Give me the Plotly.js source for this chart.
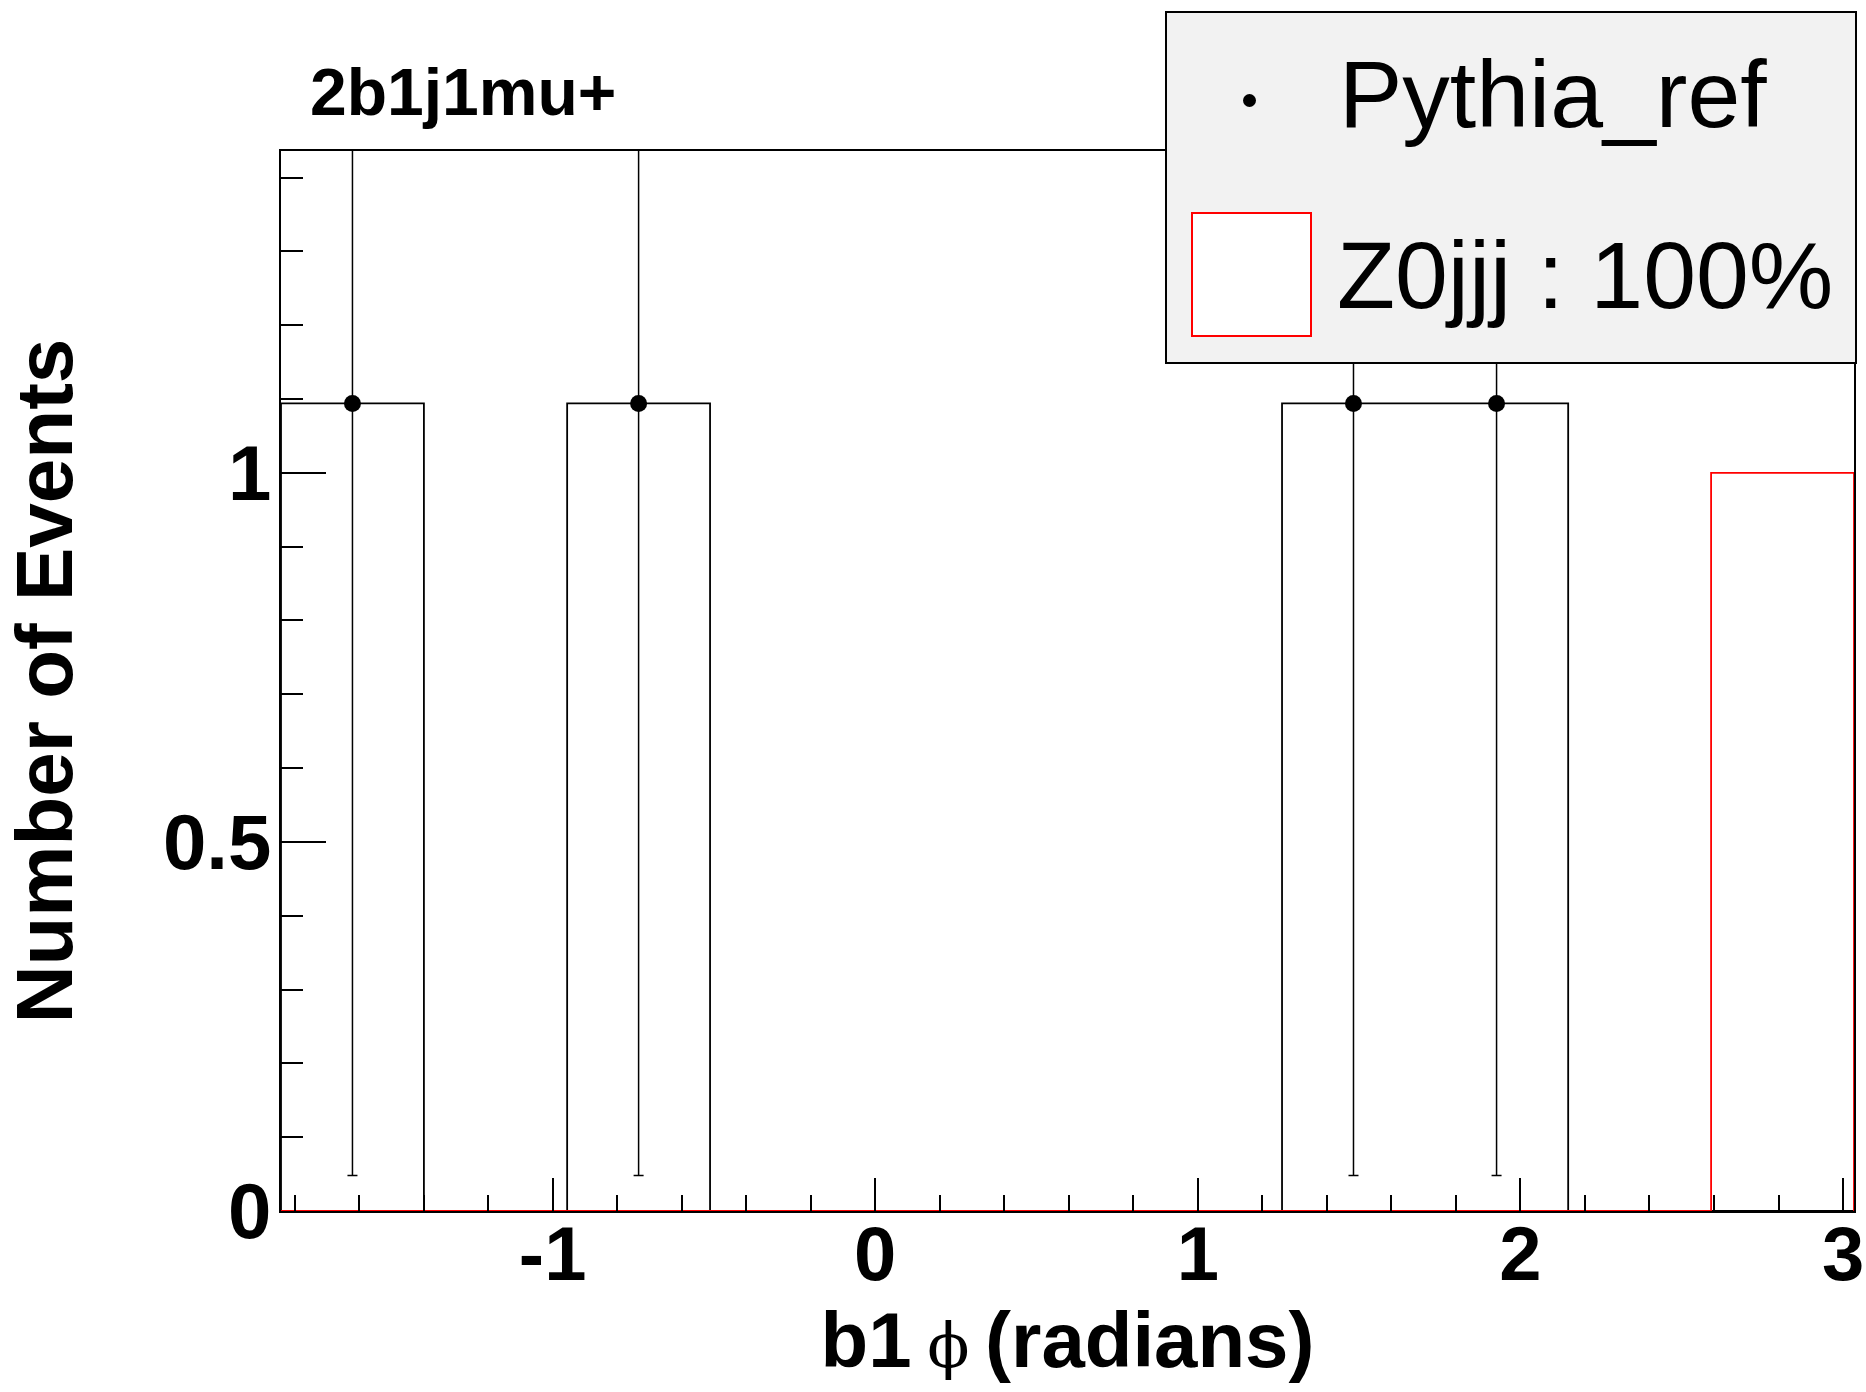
<!DOCTYPE html>
<html>
<head>
<meta charset="utf-8">
<script src="https://cdn.plot.ly/plotly-3.0.1.min.js"></script>
<style>html,body{margin:0;padding:0;background:#fff;}#chart{width:1866px;height:1392px;}</style>
</head>
<body>
<div id="chart"></div>
<script>
// ---- data ----
const chartTitle = "2b1j1mu+";
const xAxisTitle = "b1\u2009<span style=\"font-weight:normal;font-family:'DejaVu Serif';font-size:62px\">ϕ</span>\u2009(radians)";
const yAxisTitle = "Number of Events";
const seriesNames = ["Pythia_ref", "Z0jjj : 100%"];
const binEdges = [-1.842, -1.399, -0.955, -0.512, -0.069, 0.375, 0.818, 1.261, 1.704, 2.148, 2.591, 3.034];
const pythiaValues = [1.094, 0, 1.094, 0, 0, 0, 0, 1.094, 1.094, 0, 0];
const pythiaErrors = [1.046, 0, 1.046, 0, 0, 0, 0, 1.046, 1.046, 0, 0];
const z0jjjValues = [0, 0, 0, 0, 0, 0, 0, 0, 0, 0, 1];
const xMajorTicks = [-1, 0, 1, 2, 3];
const xTickLabels = ["-1", "0", "1", "2", "3"];
const yMajorTicks = [0, 0.5, 1];
const yTickLabels = ["0", "0.5", "1"];
const xRange = [binEdges[0], binEdges[binEdges.length - 1]];
const yRange = [0, 1.436];

// ---- layout geometry (pixels) ----
const W = 1866, H = 1392;
const L = 281, R = 1854, T = 151, B = 1211;
const px2x = p => (p - L) / (R - L);
const py2y = p => (B - p) / (B - T);

function stepTrace(values, color, width) {
  const xs = [binEdges[0]], ys = [0];
  for (let i = 0; i < values.length; i++) { xs.push(binEdges[i]); ys.push(values[i]); }
  xs.push(binEdges[binEdges.length - 1]); ys.push(values[values.length - 1]);
  xs.push(binEdges[binEdges.length - 1]); ys.push(0);
  return {type: 'scatter', mode: 'lines', x: xs, y: ys, line: {shape: 'hv', color: color, width: width},
          hoverinfo: 'skip', showlegend: false};
}

const centers = binEdges.slice(0, -1).map((e, i) => (e + binEdges[i + 1]) / 2);
const ptX = [], ptY = [], ptE = [];
pythiaValues.forEach((v, i) => { if (v > 0) { ptX.push(centers[i]); ptY.push(v); ptE.push(pythiaErrors[i]); } });

const traces = [
  stepTrace(pythiaValues, '#000000', 1.8),
  stepTrace(z0jjjValues, '#ff0000', 1.8),
  {type: 'scatter', mode: 'markers', x: ptX, y: ptY, name: seriesNames[0],
   marker: {color: '#000', size: 17, symbol: 'circle'},
   error_y: {type: 'data', array: ptE, visible: true, color: '#000', thickness: 1.5, width: 5},
   cliponaxis: true, showlegend: false}
];

const font = "'Liberation Sans', Arial, Helvetica, sans-serif";

const shapes = [
  {type: 'rect', xref: 'paper', yref: 'paper', x0: px2x(1166), x1: px2x(1856), y0: py2y(12), y1: py2y(363),
   fillcolor: '#f2f2f2', line: {color: '#000', width: 2}, layer: 'above'},
  {type: 'circle', xref: 'paper', yref: 'paper', x0: px2x(1243), x1: px2x(1256), y0: py2y(94), y1: py2y(107),
   fillcolor: '#000', line: {color: '#000', width: 0}, layer: 'above'},
  {type: 'rect', xref: 'paper', yref: 'paper', x0: px2x(1192), x1: px2x(1311), y0: py2y(213), y1: py2y(336),
   fillcolor: '#fff', line: {color: '#ff0000', width: 2}, layer: 'above'}
];

const annotations = [
  {xref: 'paper', yref: 'paper', x: px2x(1337), y: py2y(94), xanchor: 'left', yanchor: 'middle',
   text: seriesNames[0], showarrow: false, font: {family: font, size: 95, color: '#000'}},
  {xref: 'paper', yref: 'paper', x: px2x(1335), y: py2y(275), xanchor: 'left', yanchor: 'middle',
   text: seriesNames[1], showarrow: false, font: {family: font, size: 95, color: '#000'}}
];

const layout = {
  width: W, height: H,
  margin: {l: L, r: W - R, t: T, b: H - B, pad: 0},
  paper_bgcolor: '#fff', plot_bgcolor: '#fff',
  showlegend: false,
  title: {text: '<b>' + chartTitle + '</b>', xref: 'container', yref: 'container',
          x: 310 / W, xanchor: 'left', y: 1 - 92 / H, yanchor: 'middle',
          font: {family: font, size: 66, color: '#000'}},
  xaxis: {range: xRange, showgrid: false, zeroline: false, showline: true, mirror: true,
          linecolor: '#000', linewidth: 2, ticks: 'inside', ticklen: 33, tickwidth: 2, tickcolor: '#000',
          tickvals: xMajorTicks, ticktext: xTickLabels, ticklabelstandoff: -24, ticklabeloverflow: 'allow',
          tickfont: {family: font, size: 76, color: '#000', weight: 'bold'},
          minor: {dtick: 0.2, tick0: 0, ticks: 'inside', ticklen: 16, tickwidth: 2, tickcolor: '#000', showgrid: false},
          title: {text: '<b>' + xAxisTitle + '</b>', font: {family: font, size: 78, color: '#000'}, standoff: 8}},
  yaxis: {range: yRange, showgrid: false, zeroline: false, showline: true, mirror: true,
          linecolor: '#000', linewidth: 2, ticks: 'inside', ticklen: 45, tickwidth: 2, tickcolor: '#000',
          tickvals: yMajorTicks, ticktext: yTickLabels, ticklabelstandoff: -8, ticklabeloverflow: 'allow',
          tickfont: {family: font, size: 78, color: '#000', weight: 'bold'},
          minor: {dtick: 0.1, tick0: 0, ticks: 'inside', ticklen: 22, tickwidth: 2, tickcolor: '#000', showgrid: false},
          title: {text: '<b>' + yAxisTitle + '</b>', font: {family: font, size: 80, color: '#000'}, standoff: 72}},
  shapes: shapes,
  annotations: annotations
};

Plotly.newPlot('chart', traces, layout, {displayModeBar: false, staticPlot: true});
</script>
</body>
</html>
